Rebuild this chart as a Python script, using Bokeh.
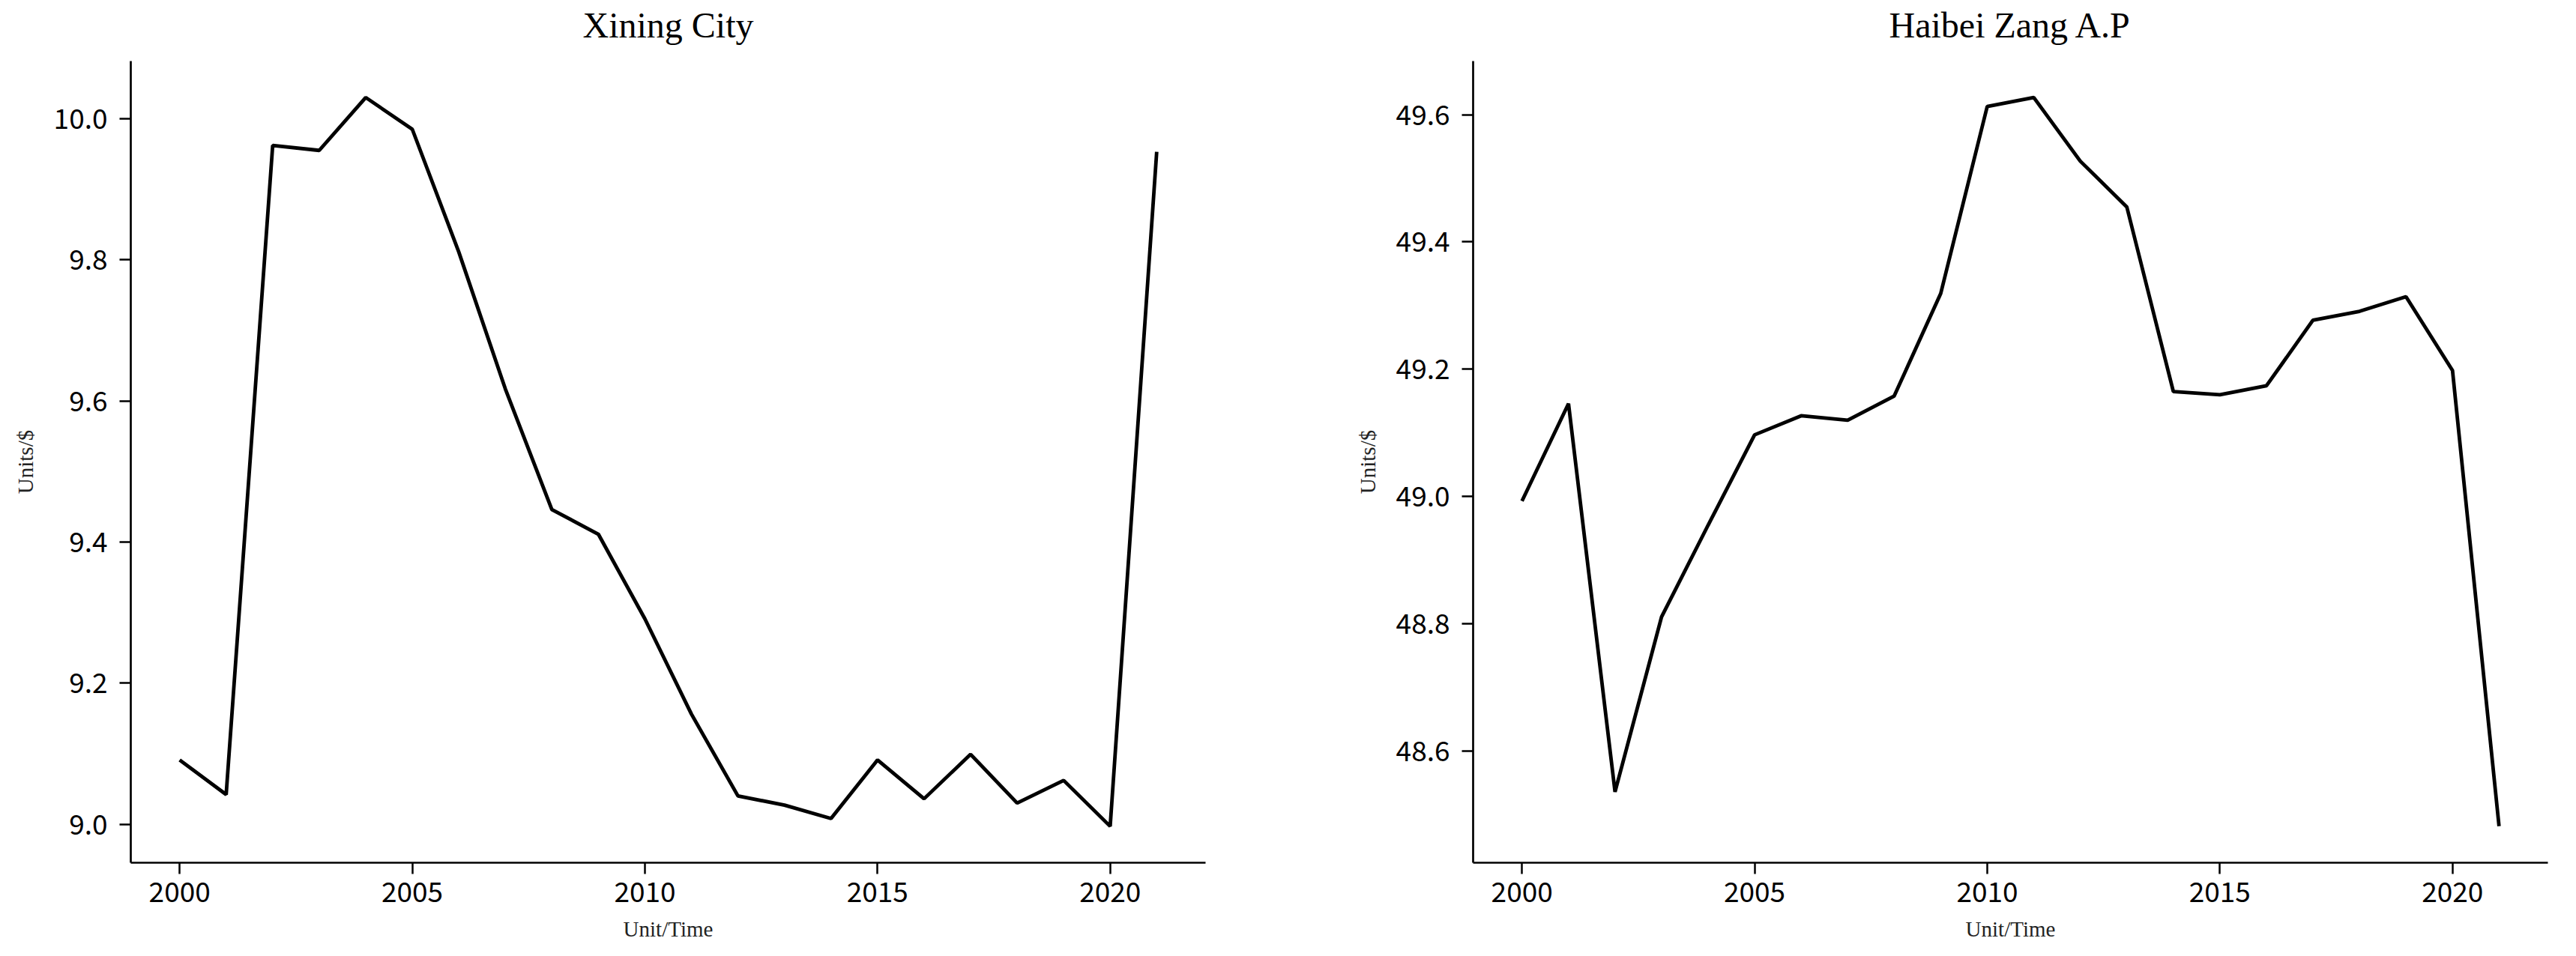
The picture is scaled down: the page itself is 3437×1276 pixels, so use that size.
from bokeh.plotting import figure
from bokeh.layouts import row, column
from bokeh.models import Range1d, FixedTicker, PrintfTickFormatter
from bokeh.embed import file_html
from bokeh.resources import INLINE

years = list(range(2000, 2022))

xining = [9.091, 9.042, 9.962, 9.955, 10.030, 9.985, 9.811, 9.617, 9.446, 9.411,
          9.291, 9.156, 9.040, 9.027, 9.008, 9.091, 9.036, 9.099, 9.030, 9.062,
          8.997, 9.953]

haibei = [48.993, 49.146, 48.536, 48.811, 48.955, 49.097, 49.127, 49.120, 49.158, 49.319,
          49.613, 49.627, 49.527, 49.455, 49.165, 49.160, 49.174, 49.277, 49.291, 49.314,
          49.198, 48.482]

titles = ["Xining City", "Haibei Zang A.P"]
x_label = "Unit/Time"
y_label = "Units/$"
x_ticks = [2000, 2005, 2010, 2015, 2020]
y_ticks_left = [9.0, 9.2, 9.4, 9.6, 9.8, 10.0]
y_ticks_right = [48.6, 48.8, 49.0, 49.2, 49.4, 49.6]

TICK_FONT = "'Noto Sans CJK SC', sans-serif"
SERIF = "'Liberation Serif', 'Times New Roman', serif"

FRAME_W = 1434
FRAME_H = 1070
TOP = 81
FIG_H = 1274


def padded(vals, frac=0.05):
    lo, hi = min(vals), max(vals)
    span = hi - lo
    return Range1d(lo - frac * span, hi + frac * span)


def make_header(title, border_left, border_right):
    h = figure(width=border_left + FRAME_W + border_right, height=TOP,
               output_backend="svg", toolbar_location=None,
               x_axis_location=None, y_axis_location=None,
               min_border_left=border_left, min_border_right=border_right,
               min_border_top=0, min_border_bottom=0)
    h.outline_line_color = None
    h.grid.visible = False
    h.background_fill_color = "white"
    h.border_fill_color = "white"
    h.title.text = title
    h.title.align = "center"
    h.title.text_font = SERIF
    h.title.text_font_size = "48px"
    h.title.text_font_style = "normal"
    h.title.text_color = "black"
    h.title.standoff = 8
    return h


def make_plot(ys, yticks, border_left, border_right):
    p = figure(width=border_left + FRAME_W + border_right, height=FIG_H - TOP,
               output_backend="svg", toolbar_location=None,
               x_range=padded(years), y_range=padded(ys),
               min_border_left=border_left, min_border_right=border_right,
               min_border_top=0, min_border_bottom=FIG_H - TOP - FRAME_H)
    p.outline_line_color = None
    p.xgrid.grid_line_color = None
    p.ygrid.grid_line_color = None
    p.background_fill_color = "white"
    p.border_fill_color = "white"

    p.line(years, ys, line_color="black", line_width=4.8)

    for ax in (p.xaxis[0], p.yaxis[0]):
        ax.axis_line_width = 2.7
        ax.axis_line_color = "black"
        ax.major_tick_line_width = 2.5
        ax.major_tick_line_color = "black"
        ax.major_tick_in = 0
        ax.major_tick_out = 15
        ax.minor_tick_line_color = None
        ax.major_label_text_font = TICK_FONT
        ax.major_label_text_font_size = "37px"
        ax.major_label_text_color = "black"
        ax.axis_label_text_font = SERIF
        ax.axis_label_text_font_size = "29px"
        ax.axis_label_text_font_style = "normal"
        ax.axis_label_text_color = "#222222"

    p.xaxis[0].ticker = FixedTicker(ticks=x_ticks)
    p.xaxis[0].axis_label = x_label
    p.xaxis[0].major_label_standoff = 10
    p.xaxis[0].axis_label_standoff = 17

    p.yaxis[0].ticker = FixedTicker(ticks=yticks)
    p.yaxis[0].formatter = PrintfTickFormatter(format="%.1f")
    p.yaxis[0].axis_label = y_label
    p.yaxis[0].major_label_standoff = 16
    p.yaxis[0].axis_label_standoff = 19
    return p


h1 = make_header(titles[0], 174, 150)
h2 = make_header(titles[1], 207, 30)
p1 = make_plot(xining, y_ticks_left, 174, 150)
p2 = make_plot(haibei, y_ticks_right, 207, 30)

layout = column(row(h1, h2), row(p1, p2))
open("out.html", "w").write(file_html(layout, INLINE))
